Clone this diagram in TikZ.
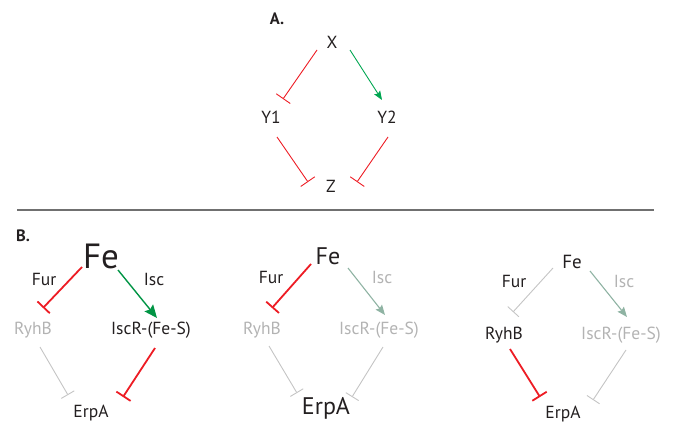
\documentclass[tikz,border=0pt]{standalone}
\usepackage{fontspec}
\setmainfont{PT Sans}
\usetikzlibrary{arrows.meta,calc}
\definecolor{txt}{HTML}{231F20}
\definecolor{ired}{HTML}{ED1C24}
\definecolor{agreen}{HTML}{00A651}
\definecolor{bgreen}{HTML}{009444}
\definecolor{gtxt}{HTML}{B3B3B3}
\definecolor{gline}{HTML}{C4C4C4}
\definecolor{ggreen}{HTML}{8FB3A3}
\definecolor{sep}{HTML}{707070}
\tikzset{
  lbl/.style={inner sep=0pt, text=txt, font=\fontsize{17.5}{17.5}\selectfont},
  glbl/.style={lbl, text=gtxt},
  inhA/.style={draw=ired, line width=0.9pt, -{Bar[width=17pt,line width=0.9pt]}},
  actA/.style={draw=agreen, line width=0.9pt, -{Stealth[length=9pt,width=7pt,inset=1.5pt]}},
  inhB/.style={draw=ired, line width=1.8pt, -{Bar[width=17pt,line width=1.8pt]}},
  inhG/.style={draw=gline, line width=0.9pt, -{Bar[width=15pt,line width=0.9pt]}},
  actB/.style={draw=bgreen, line width=1.4pt, -{Stealth[length=13pt,width=11pt,inset=2pt]}},
  actG/.style={draw=ggreen, line width=1.1pt, -{Stealth[length=10pt,width=8pt,inset=1.5pt]}},
}
\begin{document}
\begin{tikzpicture}[x=1pt,y=-1pt]
\useasboundingbox (0,0) rectangle (677,423);
% Panel A
\node[lbl, font=\fontsize{16.5}{16.5}\selectfont\bfseries] (Alab) at (277,19) {A.};
\node[lbl] (X) at (332,42) {X};
\node[lbl] (Y1) at (271,117) {Y1};
\node[lbl] (Y2) at (387,117) {Y2};
\node[lbl] (Z) at (331,186) {Z};
\draw[inhA] ($(X)+(-15,8)$) -- ($(Y1)+(12,-18)$);
\draw[actA] ($(X)+(18,8)$) -- ($(Y2)+(-5,-17)$);
\draw[inhA] ($(Y1)+(6,20)$) -- ($(Z)+(-23,-4)$);
\draw[inhA] ($(Y2)+(1,20)$) -- ($(Z)+(26,-4)$);
% separator
\coordinate (s1) at (17,210);
\coordinate (s2) at (654,210);
\draw[sep, line width=1.5pt] (s1) -- (s2);
% Panel B1
\node[lbl, font=\fontsize{16.5}{16.5}\selectfont\bfseries] (Blab) at (23,236) {B.};
\node[lbl, font=\fontsize{35}{35}\selectfont] (Fe1) at (101,256) {Fe};
\node[lbl] (Fur1) at (44,279) {Fur};
\node[lbl] (Isc1) at (154,279) {Isc};
\node[glbl] (R1) at (33,330) {RyhB};
\node[lbl] (I1) at (151,330) {IscR-(Fe-S)};
\node[lbl] (E1) at (91,413) {ErpA};
\draw[inhB] ($(Fe1)+(-19,11)$) -- ($(R1)+(10,-22)$);
\draw[actB] ($(Fe1)+(17,14)$) -- ($(I1)+(6,-12)$);
\draw[inhG] ($(R1)+(7,17)$) -- ($(E1)+(-23,-18)$);
\draw[inhB] ($(I1)+(4,18)$) -- ($(E1)+(32,-16)$);
% Panel B2
\node[lbl, font=\fontsize{24}{24}\selectfont] (Fe2) at (328,256) {Fe};
\node[lbl] (Fur2) at (271,277) {Fur};
\node[glbl] (Isc2) at (382,277) {Isc};
\node[glbl] (R2) at (262,330) {RyhB};
\node[glbl] (I2) at (379,330) {IscR-(Fe-S)};
\node[lbl, font=\fontsize{24}{24}\selectfont] (E2) at (326,408) {ErpA};
\draw[inhB] ($(Fe2)+(-17,8)$) -- ($(R2)+(10,-22)$);
\draw[actG] ($(Fe2)+(20,12)$) -- ($(I2)+(6,-15)$);
\draw[inhG] ($(R2)+(7,16)$) -- ($(E2)+(-29,-15)$);
\draw[inhG] ($(I2)+(4,17)$) -- ($(E2)+(26,-11)$);
% Panel B3
\node[lbl, font=\fontsize{19}{19}\selectfont] (Fe3) at (572,262) {Fe};
\node[lbl] (Fur3) at (514,281) {Fur};
\node[glbl] (Isc3) at (624,281) {Isc};
\node[lbl] (R3) at (504,335) {RyhB};
\node[glbl] (I3) at (621,335) {IscR-(Fe-S)};
\node[lbl] (E3) at (563,414) {ErpA};
\draw[inhG] ($(Fe3)+(-19,6)$) -- ($(R3)+(9,-23)$);
\draw[actG] ($(Fe3)+(18,9)$) -- ($(I3)+(6,-18)$);
\draw[inhB] ($(R3)+(6,14)$) -- ($(E3)+(-23,-17)$);
\draw[inhG] ($(I3)+(5,15)$) -- ($(E3)+(30,-14)$);
\end{tikzpicture}
\end{document}
